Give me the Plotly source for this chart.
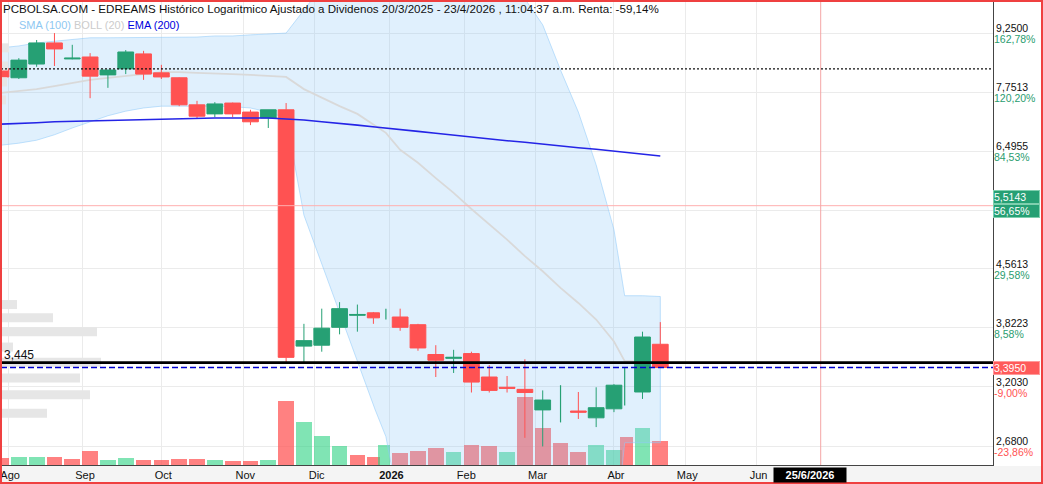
import math
import plotly.graph_objects as go

# ---------------- data ----------------
week_dates = ["2025-07-30", "2025-08-06", "2025-08-13", "2025-08-20", "2025-08-27",
              "2025-09-03", "2025-09-10", "2025-09-17", "2025-09-24",
              "2025-10-01", "2025-10-08", "2025-10-15", "2025-10-22", "2025-10-29",
              "2025-11-05", "2025-11-12", "2025-11-19", "2025-11-26",
              "2025-12-03", "2025-12-10", "2025-12-17", "2025-12-24", "2025-12-31",
              "2026-01-07", "2026-01-14", "2026-01-21", "2026-01-28",
              "2026-02-04", "2026-02-11", "2026-02-18", "2026-02-25",
              "2026-03-04", "2026-03-11", "2026-03-18", "2026-03-25",
              "2026-04-01", "2026-04-08", "2026-04-15", "2026-04-22"]

open_prices = [8.31, 8.09, 8.43, 8.98, 8.56, 8.61, 8.16, 8.31, 8.69, 8.21, 8.09, 7.46, 7.26,
               7.50, 7.30, 7.17, 7.35, 3.62, 3.63, 3.83, 3.97, 4.00, 3.98, 3.95, 3.86, 3.53,
               3.49, 3.54, 3.30, 3.20, 3.18, 2.99, 3.00, 2.98, 2.92, 3.00, 3.20, 3.155, 3.64]
high_prices = [8.36, 8.58, 9.06, 9.25, 8.93, 8.71, 8.28, 8.79, 8.77, 8.41, 8.10, 7.55, 7.52,
               7.51, 7.35, 7.35, 7.50, 3.87, 4.05, 4.13, 4.10, 4.01, 4.05, 4.05, 3.87, 3.63,
               3.58, 3.56, 3.42, 3.31, 3.48, 3.17, 3.22, 3.155, 3.20, 3.23, 3.40, 3.78, 3.89]
low_prices = [8.06, 8.06, 8.36, 8.38, 8.55, 7.61, 7.85, 8.18, 8.04, 8.06, 7.43, 7.17, 7.19,
              7.19, 7.02, 6.96, 3.45, 3.44, 3.56, 3.75, 3.78, 3.87, 3.92, 3.79, 3.57, 3.30,
              3.34, 3.15, 3.15, 3.15, 2.75, 2.68, 2.88, 2.91, 2.84, 2.97, 3.03, 3.09, 3.395]
close_prices = [8.11, 8.53, 8.98, 8.82, 8.58, 8.13, 8.28, 8.74, 8.18, 8.11, 7.46, 7.21, 7.48,
                7.26, 7.09, 7.35, 3.50, 3.68, 3.82, 4.05, 3.98, 3.94, 3.98, 3.83, 3.60, 3.47,
                3.50, 3.25, 3.17, 3.19, 3.15, 3.08, 3.00, 2.97, 3.01, 3.22, 3.20, 3.72, 3.395]

volumes = [175000, 200000, 200000, 200000, 150000, 350000, 125000, 175000, 125000, 125000,
           150000, 150000, 125000, 100000, 100000, 125000, 1600000, 1075000, 725000, 475000,
           250000, 200000, 500000, 300000, 350000, 425000, 325000, 500000, 475000, 325000,
           1700000, 925000, 550000, 325000, 500000, 375000, 700000, 925000, 600000]

ema200 = [7.04, 7.05, 7.07, 7.09, 7.10, 7.11, 7.12, 7.13, 7.14, 7.15, 7.16, 7.17, 7.17, 7.17,
          7.17, 7.17, 7.15, 7.13, 7.09, 7.06, 7.02, 6.98, 6.96, 6.93, 6.89, 6.85, 6.81, 6.78,
          6.73, 6.70, 6.67, 6.63, 6.60, 6.56, 6.53, 6.49, 6.47, 6.43, 6.40]
boll_mid = [7.73, 7.78, 7.82, 7.89, 7.97, 8.04, 8.09, 8.13, 8.18, 8.23, 8.23, 8.21, 8.20, 8.18,
            8.16, 8.13, 8.11, 7.82, 7.62, 7.43, 7.26, 7.00, 6.86, 6.52, 6.27, 5.99, 5.73, 5.46,
            5.22, 4.98, 4.74, 4.53, 4.31, 4.12, 3.92, 3.67, 3.46, 3.46, 3.45]
boll_upper = [8.85, 8.90, 8.98, 9.03, 9.09, 9.12, 9.12, 9.12, 9.14, 9.14, 9.14, 9.14, 9.17, 9.17,
              9.20, 9.23, 9.25, 9.91, 10.62, 10.85, 11.06, 11.01, 10.96, 10.90, 10.80, 10.70,
              10.60, 10.50, 10.45, 10.35, 10.25, 9.48, 8.28, 7.30, 6.23, 5.13, 4.21, 4.21, 4.20]
boll_lower = [6.61, 6.65, 6.71, 6.82, 6.96, 7.09, 7.22, 7.32, 7.39, 7.43, 7.43, 7.43, 7.43, 7.42,
              7.39, 7.30, 7.17, 5.36, 4.62, 4.01, 3.46, 2.99, 2.76, 2.20, 1.90, 1.60, 1.40, 1.30,
              1.20, 1.20, 1.20, 1.30, 1.40, 1.60, 1.80, 2.00, 2.71, 2.71, 2.71]

profile_prices = [8.85, 8.38, 7.99, 7.57, 4.10, 3.94, 3.78, 3.61, 3.45, 3.29, 3.13, 2.96]
profile_volumes = [80, 70, 60, 50, 160, 520, 960, 120, 1000, 790, 890, 460]

month_tick_dates = ["2025-08-01", "2025-09-01", "2025-10-01", "2025-11-03", "2025-12-01",
                    "2026-01-02", "2026-02-02", "2026-03-02", "2026-04-01", "2026-05-04",
                    "2026-06-01"]
month_tick_labels = ["Ago", "Sep", "Oct", "Nov", "Dic", "<b>2026</b>", "Feb", "Mar", "Abr",
                     "May", "Jun"]
market_holidays = ["2025-12-25", "2025-12-26", "2026-01-01", "2026-04-03", "2026-04-06",
                   "2026-05-01"]

# the 5.4429 grid level's label sits under the 5,5143 marker boxes, so it is left blank
price_ticks = [9.25, 7.7513, 6.4955, 5.4429, 4.5613, 3.8223, 3.2030, 2.68]
price_tick_text = ["9,2500", "7,7513", "6,4955", "", "4,5613", "3,8223", "3,2030", "2,6800"]
pct_tick_text = ["162,78%", "120,20%", "84,53%", "", "29,58%", "8,58%", "-9,00%", "-23,86%"]

support_level = 3.445
support_text = "3,445"
last_price = 3.395
last_price_text = "3,3950"
dotted_level = 8.31
target_level = 5.5143
target_text = "5,5143"
target_pct = "56,65%"
marker_date = "2026-06-25"
marker_text = "25/6/2026"

title_text = ("PCBOLSA.COM - EDREAMS Histórico Logaritmico Ajustado a Dividenos "
              "20/3/2025 - 23/4/2026 , 11:04:37 a.m. Renta: -59,14%")

# ---------------- styles ----------------
W, H = 1043, 484
ML, MR, MT, MB = 1, 50, 1, 19
PW, PH = W - ML - MR, H - MT - MB
GREEN = "#26a074"
RED = "#ff5252"
VOL_UP = "rgba(43,210,130,0.6)"
VOL_DN = "rgba(255,80,80,0.72)"
PCT_GREEN = "#2a9d6f"
SANS = "Liberation Sans, Arial, sans-serif"
DAY_MS = 86400000

flat = [o == c for o, c in zip(open_prices, close_prices)]
body_idx = [i for i, f in enumerate(flat) if not f]
flat_idx = [i for i, f in enumerate(flat) if f]


def pick(arr, idx):
    return [arr[i] for i in idx]


vol_colors = []
for i, c in enumerate(close_prices):
    prev = close_prices[i - 1] if i > 0 else open_prices[0]
    vol_colors.append(VOL_UP if c >= prev else VOL_DN)

fig = go.Figure()

# volume (bottom layer, own hidden axis)
fig.add_trace(go.Bar(x=week_dates, y=volumes, marker=dict(color=vol_colors, line=dict(width=0)),
                     width=4.42 * DAY_MS, xaxis="x", yaxis="y", hoverinfo="skip"))

# Bollinger band fill + middle
fig.add_trace(go.Scatter(x=week_dates + week_dates[::-1], y=boll_upper + boll_lower[::-1],
                         mode="lines", fill="toself", fillcolor="rgba(144,202,249,0.28)",
                         line=dict(color="rgba(144,202,249,0.55)", width=1),
                         xaxis="x", yaxis="y2", hoverinfo="skip"))
fig.add_trace(go.Scatter(x=week_dates, y=boll_mid, mode="lines",
                         line=dict(color="#d9d9d9", width=1.8),
                         xaxis="x", yaxis="y2", hoverinfo="skip"))

# candles
fig.add_trace(go.Candlestick(
    x=pick(week_dates, body_idx), open=pick(open_prices, body_idx),
    high=pick(high_prices, body_idx), low=pick(low_prices, body_idx),
    close=pick(close_prices, body_idx),
    increasing=dict(line=dict(color=GREEN, width=1), fillcolor=GREEN),
    decreasing=dict(line=dict(color=RED, width=1), fillcolor=RED),
    xaxis="x", yaxis="y3", hoverinfo="skip"))
fig.add_trace(go.Ohlc(
    x=pick(week_dates, flat_idx), open=pick(open_prices, flat_idx),
    high=pick(high_prices, flat_idx), low=pick(low_prices, flat_idx),
    close=pick(close_prices, flat_idx), tickwidth=0,
    increasing=dict(line=dict(color=GREEN, width=1.2)),
    decreasing=dict(line=dict(color=GREEN, width=1.2)),
    xaxis="x", yaxis="y3", hoverinfo="skip"))

# EMA 200
fig.add_trace(go.Scatter(x=week_dates, y=ema200, mode="lines",
                         line=dict(color="#2424e6", width=1.6),
                         xaxis="x", yaxis="y3", hoverinfo="skip"))

# volume-at-price profile
prof_x, prof_y = [], []
for p, v in zip(profile_prices, profile_volumes):
    prof_x += [0, v, None]
    prof_y += [p, p, None]
fig.add_trace(go.Scatter(x=prof_x, y=prof_y, mode="lines",
                         line=dict(color="#e6e6e6", width=9),
                         xaxis="x2", yaxis="y3", hoverinfo="skip"))

# ---------------- axes ----------------
y_lo, y_hi = 2.535, 10.183
pct_colored = [f"<span style='color:{RED if q.startswith('-') else PCT_GREEN}'>{q}</span>"
               if q else "" for q in pct_tick_text]
fig.update_layout(
    width=W, height=H, margin=dict(l=ML, r=MR, t=MT, b=MB),
    paper_bgcolor="white", plot_bgcolor="white", showlegend=False,
    boxgap=0.369, boxgroupgap=0, bargap=0, hovermode=False,
    xaxis=dict(type="date", range=["2025-07-30", "2026-09-01 08:24"],
               rangebreaks=[dict(bounds=["sat", "mon"]), dict(values=market_holidays)],
               tickmode="array", tickvals=month_tick_dates, ticktext=month_tick_labels,
               ticks="", showgrid=True, gridcolor="#ebebeb", gridwidth=1,
               showline=True, linecolor="#444", linewidth=1, zeroline=False,
               ticklabeloverflow="allow", ticklabelshift=2,
               tickfont=dict(family=SANS, size=11, color="#111"),
               rangeslider=dict(visible=False), fixedrange=True),
    xaxis2=dict(overlaying="x", range=[0, 9920], visible=False, fixedrange=True),
    yaxis=dict(range=[0, 11600000], visible=False, showgrid=False, fixedrange=True),
    yaxis2=dict(type="log", range=[math.log10(y_lo), math.log10(y_hi)], overlaying="y",
                side="right", tickmode="array", tickvals=price_ticks, ticktext=price_tick_text,
                ticks="", showgrid=True, gridcolor="#ebebeb", gridwidth=1,
                showline=True, linecolor="#444", linewidth=1, zeroline=False,
                ticklabelshift=-5,
                tickfont=dict(family=SANS, size=10.5, color="#111"), fixedrange=True),
    yaxis3=dict(type="log", matches="y2", overlaying="y", visible=False, fixedrange=True),
    yaxis4=dict(type="log", matches="y2", overlaying="y", side="right", tickmode="array",
                tickvals=price_ticks, ticktext=pct_colored, ticks="", showgrid=False,
                showline=False, zeroline=False, ticklabelshift=6,
                tickfont=dict(family=SANS, size=10.5, color="#111"), fixedrange=True),
)
# invisible point so the percent axis is drawn
fig.add_trace(go.Scatter(x=[week_dates[0]], y=[close_prices[0]], mode="markers",
                         marker=dict(opacity=0), xaxis="x", yaxis="y4", hoverinfo="skip"))

# ---------------- shapes ----------------
shapes = [
    dict(type="rect", xref="paper", yref="paper", x0=-ML / PW, x1=(W - ML) / PW,
         y0=-(MB - 1) / PH, y1=-1 / PH, fillcolor="#f4f4f4", line=dict(width=0), layer="below"),
    dict(type="line", xref="paper", yref="y2", x0=0, x1=1, y0=target_level, y1=target_level,
         line=dict(color="#ffb0b0", width=1), layer="above"),
    dict(type="line", xref="x", yref="paper", x0=marker_date, x1=marker_date, y0=0, y1=1,
         line=dict(color="#f4a6a6", width=1), layer="above"),
    dict(type="line", xref="paper", yref="y2", x0=0, x1=1, y0=dotted_level, y1=dotted_level,
         line=dict(color="#111", width=1.2, dash="2px,2px"), layer="above"),
    dict(type="line", xref="paper", yref="y2", x0=0, x1=1, y0=last_price, y1=last_price,
         line=dict(color="#0000d0", width=1.5, dash="6px,3px"), layer="above"),
    dict(type="line", xref="paper", yref="y2", x0=0, x1=1, y0=support_level, y1=support_level,
         line=dict(color="#000", width=2.6), layer="above"),
    dict(type="rect", xref="paper", yref="paper", x0=0, x1=(W - 2) / PW,
         y0=-(MB - 1) / PH, y1=1, line=dict(color="#ef4040", width=2), layer="above"),
]
fig.update_layout(shapes=shapes)

# ---------------- annotations ----------------
box_font = dict(family=SANS, size=10.5, color="white")
anns = [
    dict(xref="paper", yref="paper", x=0, y=1, xanchor="left", yanchor="top", xshift=1,
         text=title_text, showarrow=False, font=dict(family=SANS, size=11.6, color="#111"),
         borderpad=0),
    dict(xref="paper", yref="paper", x=17 / PW, y=1, xanchor="left", yanchor="top", yshift=-17,
         text=("<span style='color:#8ec8f2'>SMA (100)</span> "
               "<span style='color:#cccccc'>BOLL (20)</span> "
               "<span style='color:#0000dd'>EMA (200)</span>"),
         showarrow=False, font=dict(family=SANS, size=11), borderpad=0),
    dict(xref="paper", yref="y2", x=0, y=math.log10(support_level), xanchor="left",
         yanchor="bottom", xshift=2, yshift=0, text=support_text, showarrow=False,
         font=dict(family=SANS, size=12, color="#111"), borderpad=0),
    dict(xref="paper", yref="y2", x=1, y=math.log10(target_level), xanchor="left",
         yanchor="bottom", yshift=2, text=target_text, showarrow=False, align="left",
         width=45, bgcolor=GREEN, bordercolor="#7fcfae", borderwidth=1, borderpad=0,
         font=box_font),
    dict(xref="paper", yref="y2", x=1, y=math.log10(target_level), xanchor="left",
         yanchor="top", yshift=2, text=target_pct, showarrow=False, align="left",
         width=45, bgcolor=GREEN, bordercolor="#7fcfae", borderwidth=1, borderpad=0,
         font=box_font),
    dict(xref="paper", yref="y2", x=1, y=math.log10(last_price), xanchor="left",
         yanchor="middle", text=last_price_text, showarrow=False, align="left",
         width=45, bgcolor="#ff5a5a", bordercolor="#ff9a9a", borderwidth=1, borderpad=0,
         font=box_font),
    dict(xref="x", yref="paper", x=marker_date, y=0, xanchor="center", yanchor="top",
         xshift=-11, yshift=-2, text=f"<b>{marker_text}</b>", showarrow=False,
         bgcolor="black", borderpad=1, width=70,
         font=dict(family=SANS, size=11, color="white")),
]
fig.update_layout(annotations=anns)

fig.write_html("out.html")
